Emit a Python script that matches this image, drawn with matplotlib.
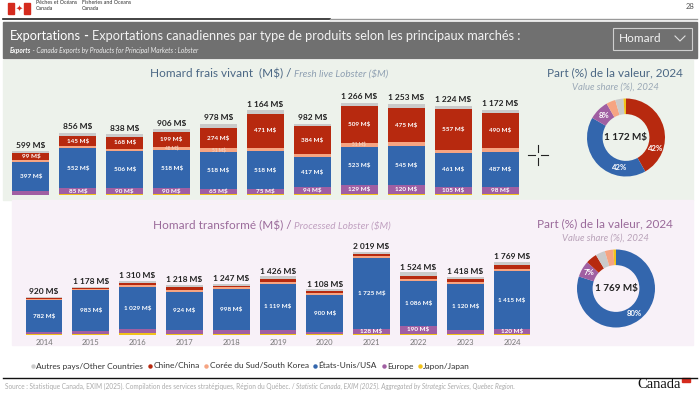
import matplotlib.pyplot as plt
from matplotlib.patches import Rectangle
from matplotlib.lines import Line2D
import numpy as np

# ---- data ----
years = ['2014', '2015', '2016', '2017', '2018', '2019', '2020', '2021', '2022', '2023', '2024']
markets = ['Japon/Japan', 'Europe', 'États-Unis/USA', 'Corée du Sud/South Korea', 'Chine/China', 'Autres pays/Other Countries']
colors = ['#f1c21b', '#a05fa2', '#3366ad', '#f6a482', '#b7290f', '#cacaca']

# fresh live lobster (M$)
live_japan = [5, 9, 8, 11, 12, 10, 12, 14, 13, 11, 12]
live_europe = [55, 85, 90, 90, 65, 75, 94, 129, 120, 105, 98]
live_usa = [397, 552, 506, 518, 518, 518, 417, 523, 545, 461, 487]
live_korea = [22, 25, 30, 48, 51, 45, 40, 51, 45, 45, 45]
live_china = [99, 145, 168, 199, 274, 471, 384, 509, 475, 557, 490]
live_other = [21, 40, 36, 40, 58, 45, 35, 40, 55, 45, 40]
live_total = [599, 856, 838, 906, 978, 1164, 982, 1266, 1253, 1224, 1172]

# processed lobster (M$)
proc_japan = [15, 25, 40, 35, 30, 30, 15, 25, 30, 25, 20]
proc_europe = [55, 75, 105, 95, 90, 100, 70, 128, 190, 105, 120]
proc_usa = [782, 983, 1029, 924, 998, 1119, 900, 1725, 1086, 1120, 1415]
proc_korea = [25, 40, 45, 45, 40, 50, 45, 45, 60, 45, 62]
proc_china = [13, 15, 45, 60, 45, 75, 45, 40, 70, 75, 82]
proc_other = [30, 40, 46, 59, 44, 52, 33, 56, 88, 48, 70]
proc_total = [920, 1178, 1310, 1218, 1247, 1426, 1108, 2019, 1524, 1418, 1769]

live = [live_japan, live_europe, live_usa, live_korea, live_china, live_other]
proc = [proc_japan, proc_europe, proc_usa, proc_korea, proc_china, proc_other]

W, H = 700, 394
plt.rcParams['font.family'] = ['Lato', 'DejaVu Sans']
fig = plt.figure(figsize=(7, 3.94), dpi=100)
renderer = fig.canvas.get_renderer()


def px_axes(x0, y0, w, h, **kw):
    # axes from pixel box (top-left origin)
    return fig.add_axes([x0 / W, 1 - (y0 + h) / H, w / W, h / H], **kw)


bg = px_axes(0, 0, W, H)
bg.set_xlim(0, W)
bg.set_ylim(H, 0)
bg.axis('off')


def fmt(v):
    return f'{v:,}'.replace(',', ' ') + ' M$'


def chain(x, y, parts):
    # put text pieces one after another on a line
    for s, kw in parts:
        t = bg.text(x, y, s, va='center', **kw)
        x += t.get_window_extent(renderer).width
    return x


# ---- header ----
bg.add_patch(Rectangle((8, 3), 6, 11, color='#d52b1e'))
bg.add_patch(Rectangle((24, 3), 6, 11, color='#d52b1e'))
bg.text(19, 8.5, '✦', color='#d52b1e', fontsize=6, ha='center', va='center', family='DejaVu Sans')
bg.text(36, 5.5, 'Pêches et Océans\nCanada', fontsize=3.8, color='#333333', va='center', linespacing=1.1)
bg.text(82, 5.5, 'Fisheries and Oceans\nCanada', fontsize=3.8, color='#333333', va='center', linespacing=1.1)
bg.text(694, 6, '28', fontsize=5.5, color='#555555', ha='right', va='center')
bg.plot([3, 330], [18.5, 18.5], color='#222222', lw=1.2)
bg.plot([330, 697], [18.5, 18.5], color='#999999', lw=1.0)

bg.add_patch(Rectangle((3, 22), 694, 36, color='#707070'))
chain(10, 36, [('Exportations', dict(fontsize=9.2, color='white')),
               (' - ', dict(fontsize=9.2, color='white', fontweight='bold')),
               ('Exportations canadiennes par type de produits selon les principaux marchés :',
                dict(fontsize=9.2, color='#f2f2f2'))])
chain(10, 50.5, [('Exports', dict(fontsize=4.8, color='white', style='italic', fontweight='bold')),
                 (' - Canada Exports by Products for Principal Markets : Lobster',
                  dict(fontsize=4.8, color='#eeeeee', style='italic'))])
bg.add_patch(Rectangle((613, 27.5), 79, 22, fill=False, ec='#cfcfcf', lw=0.8))
bg.text(619, 38.5, 'Homard', fontsize=8.5, color='#f4f4f4', va='center')
bg.plot([675, 680, 685], [36, 41, 36], color='#e0e0e0', lw=0.8)

# ---- panel backgrounds ----
bg.add_patch(Rectangle((3, 60), 690, 140, color='#edf2eb'))
bg.add_patch(Rectangle((12, 200), 681, 145, color='#f8f1f8'))

# cursor cross
bg.plot([528, 535], [155, 155], color='#222222', lw=0.8)
bg.plot([541, 548], [155, 155], color='#222222', lw=0.8)
bg.plot([538, 538], [145, 152], color='#222222', lw=0.8)
bg.plot([538, 538], [158, 165], color='#222222', lw=0.8)

# ---- titles ----
chain(150, 74, [('Homard frais vivant  (M$) / ', dict(fontsize=8.5, color='#4b6784')),
                ('Fresh live Lobster ($M)', dict(fontsize=7.2, color='#8fa0b2', style='italic'))])
chain(153, 226, [('Homard transformé (M$) / ', dict(fontsize=8.5, color='#9a6a9a')),
                 ('Processed Lobster ($M)', dict(fontsize=7.2, color='#c0a0c0', style='italic'))])

bg.text(615, 73, 'Part (%) de la valeur, 2024', fontsize=8.5, color='#4b6784', ha='center', va='center')
bg.text(615, 87, 'Value share (%), 2024', fontsize=6.8, color='#9aa8b6', ha='center', va='center', style='italic')
bg.text(605, 224, 'Part (%) de la valeur, 2024', fontsize=8.5, color='#9a6a9a', ha='center', va='center')
bg.text(605, 238, 'Value share (%), 2024', fontsize=6.8, color='#b9a2b9', ha='center', va='center', style='italic')


# ---- stacked bars ----
def stacked(ax, series, totals, label_rules, gap):
    x = np.arange(len(years))
    bottom = np.zeros(len(years))
    for k, vals in enumerate(series):
        vals = np.array(vals)
        ax.bar(x, vals, bottom=bottom, width=0.79, color=colors[k], linewidth=0)
        if k in label_rules:
            for i, v in enumerate(vals):
                if v >= label_rules[k]:
                    ax.text(x[i], bottom[i] + v / 2, fmt(int(v)), ha='center', va='center',
                            fontsize=4.6, color='white', fontweight='bold')
        bottom += vals
    for i, t in enumerate(totals):
        ax.text(x[i], t + gap, fmt(t), ha='center', va='bottom', fontsize=6,
                color='#222222', fontweight='bold')
    ax.set_xlim(-0.5, len(years) - 0.5)
    for s in ax.spines.values():
        s.set_visible(False)
    ax.set_yticks([])
    ax.patch.set_alpha(0)


ax1 = px_axes(7.5, 80, 516, 115)
stacked(ax1, live, live_total, {1: 60, 2: 100, 4: 90}, 35)
ax1.set_ylim(0, 1582)
ax1.set_xticks([])
# tiny Korea labels
for i in [3, 4, 7]:
    b = live_japan[i] + live_europe[i] + live_usa[i]
    ax1.text(i, b + live_korea[i] / 2, fmt(live_korea[i]), ha='center', va='center',
             fontsize=3.4, color='#f0d0c0', fontweight='bold')

ax2 = px_axes(20.6, 240, 514.8, 95)
stacked(ax2, proc, proc_total, {1: 115, 2: 300}, 45)
ax2.set_ylim(0, 2311)
ax2.set_xticks(np.arange(len(years)))
ax2.set_xticklabels(years, fontsize=5.5, color='#777777')
ax2.tick_params(axis='x', length=0, pad=3)


# ---- donuts ----
def donut(cx, cy, r, series, total, label_pos):
    size = 2.1 * r
    ax = px_axes(cx - size / 2, cy - size / 2, size, size)
    vals = [s[-1] for s in series]
    order = sorted(range(len(vals)), key=lambda k: -vals[k])
    v = [vals[k] for k in order]
    c = [colors[k] for k in order]
    wedges, _ = ax.pie(v, colors=c, startangle=90, counterclock=False, radius=1,
                       wedgeprops=dict(width=0.4, linewidth=0))
    tot = sum(v)
    for j, (w, val) in enumerate(zip(wedges, v)):
        if j in label_pos:
            f = label_pos[j]
            ang = np.deg2rad(w.theta1 + f * (w.theta2 - w.theta1))
            ax.text(0.8 * np.cos(ang), 0.8 * np.sin(ang), f'{val / tot * 100:.0f}%', ha='center',
                    va='center', fontsize=5.6, color='white', fontweight='bold')
    ax.text(0, 0, fmt(total), ha='center', va='center', fontsize=7.2, fontweight='bold', color='#222222')
    ax.set_xlim(-1.05, 1.05)
    ax.set_ylim(-1.05, 1.05)
    ax.set_aspect('equal')
    ax.axis('off')


donut(626, 137.5, 39, live, live_total[-1], {0: 0.27, 1: 0.72, 2: 0.5})
donut(616, 288.5, 39, proc, proc_total[-1], {0: 0.5, 1: 0.5})

# ---- legend ----
order = [5, 4, 3, 2, 1, 0]
handles = [Line2D([], [], marker='o', ls='none', ms=3.2, color=colors[k], mec='none') for k in order]
fig.legend(handles, [markets[k] for k in order], loc='center', bbox_to_anchor=(250 / W, 1 - 366 / H),
           ncol=6, frameon=False, fontsize=6.0, handletextpad=0.0, columnspacing=0.4,
           handlelength=0.8, labelcolor='#333333')

bg.plot([3, 697], [377.5, 377.5], color='#111111', lw=1.0)
chain(5, 386, [('Source : Statistique Canada, EXIM (2025). Compilation des services stratégiques, Région du Québec. / ',
                dict(fontsize=4.7, color='#aaaaaa')),
               ('Statistic Canada, EXIM (2025). Aggregated by Strategic Services, Quebec Region.',
                dict(fontsize=4.7, color='#aaaaaa', style='italic'))])
bg.text(637, 385, 'Canada', fontsize=10.5, family='Liberation Serif', color='#111111', va='center')
bg.add_patch(Rectangle((682, 377.5), 8, 4, color='#d52b1e'))

fig.savefig('out.png', dpi=100)
